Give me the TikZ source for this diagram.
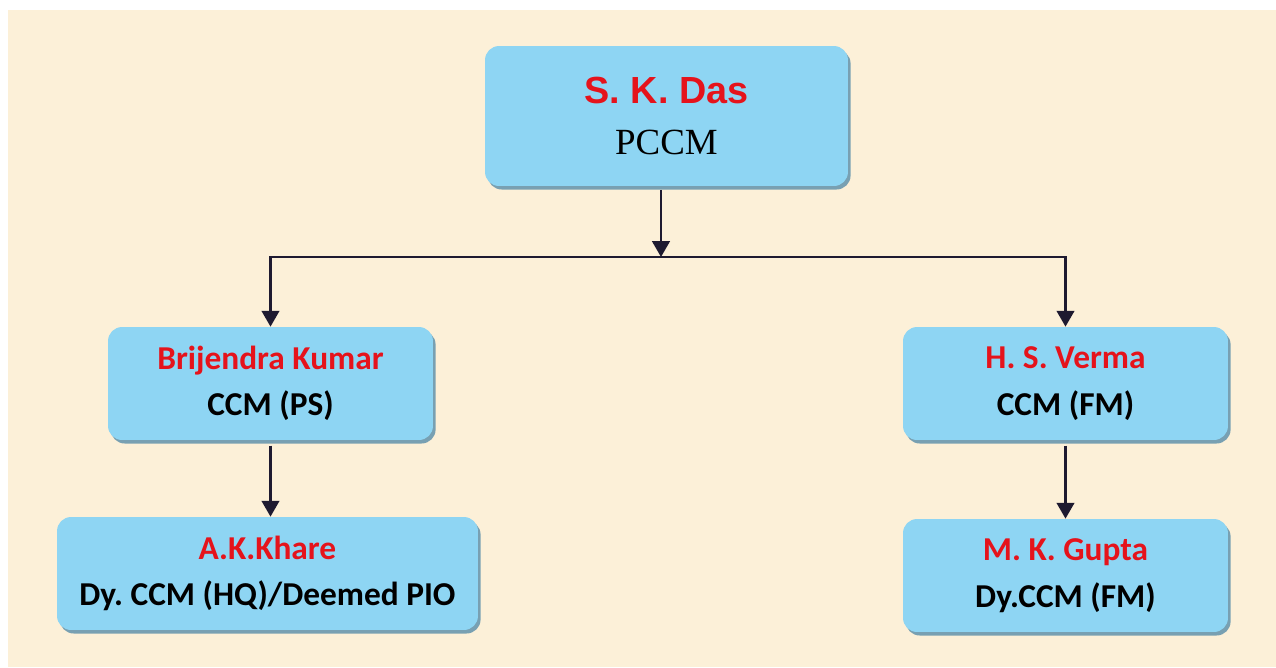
\documentclass[tikz,border=0pt]{standalone}
\usepackage{fontspec}
\newfontfamily\calibri{Carlito}
\newfontfamily\arialfont{Liberation Sans}
\newfontfamily\timesfont{Liberation Serif}
\usetikzlibrary{arrows.meta,shadows}
\definecolor{parchment}{HTML}{FCF0D8}
\definecolor{boxblue}{HTML}{8ED5F3}
\definecolor{boxshade}{HTML}{6A98AE}
\definecolor{namered}{HTML}{E5131B}
\definecolor{linkline}{HTML}{1E1A30}
\newcommand{\who}[1]{{\color{namered}#1}}
\frenchspacing

\begin{document}
\begin{tikzpicture}[x=0.02cm,y=-0.02cm,
  post/.style={fill=boxblue,rounded corners=8pt,align=center,inner sep=0pt,
    minimum width=6.5cm,minimum height=2.26cm,
    drop shadow={shadow xshift=1.5pt,shadow yshift=-2pt,fill=boxshade,opacity=.9},
    font=\calibri\bfseries\fontsize{19}{26.5}\selectfont},
  link/.style={draw=linkline,line width=1.3pt,-{Triangle[width=10pt,length=9pt]}}]

\useasboundingbox (0,0) rectangle (1276,667);
\fill[parchment] (8,10) rectangle (1276,667);

\begin{scope}
\coordinate (a) at (666.5,116);
\coordinate (b) at (270.5,383.5);
\coordinate (c) at (1065.5,383.5);
\coordinate (d) at (267.5,573.5);
\coordinate (e) at (1065.5,575.5);
\coordinate (split) at (661,257);

\node[post,minimum width=7.26cm,minimum height=2.8cm,font=\fontsize{21}{28.5}\selectfont] (das) at (a)
  {\who{\arialfont\bfseries\fontsize{21.5}{28.5}\selectfont S. K. Das}\\{\timesfont PCCM}};
\node[post] (kumar) at (b) {\who{Brijendra Kumar}\\CCM (PS)};
\node[post] (verma) at (c) {\who{H. S. Verma}\\CCM (FM)};
\node[post,minimum width=8.42cm] (khare) at (d) {\who{A.K.Khare}\\Dy. CCM (HQ)/Deemed PIO};
\node[post] (gupta) at (e) {\who{M. K. Gupta}\\Dy.CCM (FM)};

\draw[link,shorten <=2pt] (das.south -| split) -- (split);
\draw[link] (split) -| (kumar.north);
\draw[link] (split) -| (verma.north);
\draw[link,shorten <=3pt] (kumar.south) -- (khare.north -| kumar.south);
\draw[link,shorten <=3pt] (verma.south) -- (gupta.north);
\end{scope}

\end{tikzpicture}
\end{document}
